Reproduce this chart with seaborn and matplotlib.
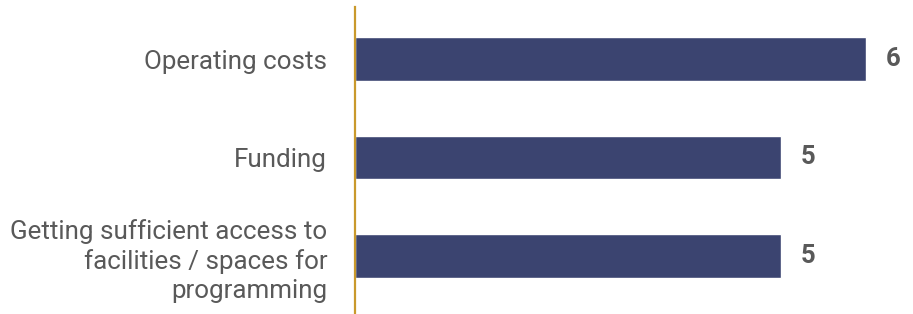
import pandas as pd
import matplotlib.pyplot as plt
import seaborn as sns

# data
categories = [
    "Operating costs",
    "Funding",
    "Getting sufficient access to\nfacilities / spaces for\nprogramming",
]
counts = [6, 5, 5]

BAR_COLOR = "#3b4470"
AXIS_GOLD = "#c9992c"
TEXT_GREY = "#595959"

sns.set_style("white")
plt.rcParams["font.family"] = ["Roboto", "DejaVu Sans"]

df = pd.DataFrame({"category": categories, "count": counts})

fig = plt.figure(figsize=(9.13, 3.14), dpi=100)
ax = fig.add_axes([355 / 913, 0, 558 / 913, 307 / 314])

sns.barplot(data=df, x="count", y="category", orient="h",
            color=BAR_COLOR, width=0.44, saturation=1, ax=ax)

ax.set_xlim(0, 558 / 85.2)
ax.set_ylim(2.589, -0.528)

# value labels
for i, v in enumerate(counts):
    ax.annotate(str(v), (v, i), xytext=(14, 0), textcoords="offset points",
                ha="left", va="center", fontsize=18.5, fontweight="bold",
                color=TEXT_GREY)

ax.set_xlabel("")
ax.set_ylabel("")
ax.set_xticks([])
ax.tick_params(axis="y", length=0, pad=20, labelsize=18.7, labelcolor=TEXT_GREY)
for lbl in ax.get_yticklabels():
    lbl.set_multialignment("right")
    lbl.set_linespacing(1.27)

for side in ["top", "right", "bottom"]:
    ax.spines[side].set_visible(False)
ax.spines["left"].set_color(AXIS_GOLD)
ax.spines["left"].set_linewidth(1.6)
ax.set_facecolor("none")

fig.savefig("out.png", dpi=100)
